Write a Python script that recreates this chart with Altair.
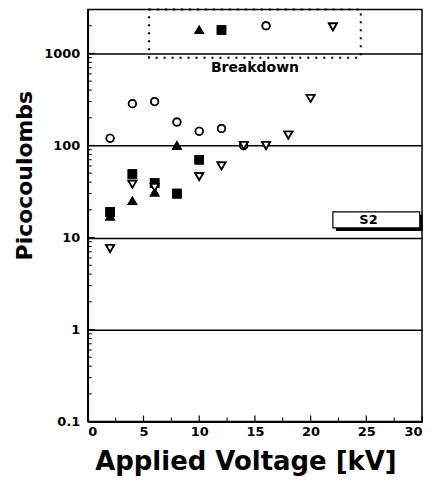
import altair as alt
import pandas as pd

# ---- data ----
circle_x = [2, 4, 6, 8, 10, 12, 14, 16]
circle_y = [120, 285, 300, 180, 143, 153, 100, 2000]
tri_x = [2, 4, 6, 8, 10]
tri_y = [17, 25, 31, 100, 1800]
sq_x = [2, 4, 6, 8, 10, 12]
sq_y = [19, 49, 39, 30, 70, 1800]
down_x = [2, 4, 6, 10, 12, 14, 16, 18, 20, 22]
down_y = [7.6, 38, 35, 46, 60, 100, 100, 130, 325, 1950]

series_names = ["circle", "triangle", "square", "down"]
series_shapes = ["circle", "triangle-up", "square", "triangle-down"]
series_fills = ["white", "black", "black", "white"]

x_ticks = [0, 5, 10, 15, 20, 25, 30]
x_minor = [2.5, 7.5, 12.5, 17.5, 22.5, 27.5]
y_ticks = [0.1, 1, 10, 100, 1000]
y_minor = [m * d for d in [0.1, 1, 10, 100] for m in range(2, 10)] + [2000, 3000]

breakdown_box = {"x0": 5.5, "x1": 24.5, "y0": 900, "y1": 3000}
breakdown_label = {"x": 15, "y": 700, "text": "Breakdown"}
s2_box = {"x0": 22, "x1": 29.8, "y0": 12.7, "y1": 19}
s2_label = {"x": 25.2, "y": 15.5, "text": "S2"}

rows = []
for name, xs_, ys_ in [("circle", circle_x, circle_y), ("triangle", tri_x, tri_y),
                       ("square", sq_x, sq_y), ("down", down_x, down_y)]:
    for a, b in zip(xs_, ys_):
        rows.append({"x": a, "y": b, "s": name})
df = pd.DataFrame(rows)

FONT = "DejaVu Sans"
W, H = 335, 413

xs = alt.Scale(domain=[0, 30], nice=False, zero=False)
ys = alt.Scale(type="log", domain=[0.1, 3000], nice=False)

xaxis = alt.Axis(
    values=x_ticks, title="Applied Voltage [kV]", ticks=False, grid=False,
    labelPadding=4, titleX=158, titleY=48, titleBaseline="alphabetic",
    titleFontSize=26, labelFontSize=13)
yaxis = alt.Axis(
    values=y_ticks, format=".1~f", title="Picocoulombs", ticks=False,
    grid=True, gridColor="black", gridWidth=1.6, gridOpacity=1,
    labelPadding=8, titleX=-63, titleY=166, titleAngle=-90,
    titleAlign="center", titleBaseline="middle",
    titleFontSize=22, labelFontSize=13)


def X(f):
    return alt.X(f, scale=xs, axis=xaxis)


def Y(f):
    return alt.Y(f, scale=ys, axis=yaxis)


points = alt.Chart(df).mark_point(filled=True, stroke="black", strokeWidth=1.7, opacity=1).encode(
    x=X("x:Q"),
    y=Y("y:Q"),
    shape=alt.Shape("s:N", scale=alt.Scale(domain=series_names, range=series_shapes), legend=None),
    fill=alt.Fill("s:N", scale=alt.Scale(domain=series_names, range=series_fills), legend=None),
    size=alt.Size("s:N", scale=alt.Scale(domain=series_names, range=[55, 65, 45, 65]), legend=None),
)

ymaj = alt.Chart(pd.DataFrame({"y": y_ticks})).mark_rule(color="black", strokeWidth=1.2).encode(
    y=Y("y:Q"), x=alt.value(0), x2=alt.value(7))
ymin = alt.Chart(pd.DataFrame({"y": y_minor})).mark_rule(color="black", strokeWidth=1).encode(
    y=Y("y:Q"), x=alt.value(0), x2=alt.value(4))
xmaj = alt.Chart(pd.DataFrame({"x": x_ticks})).mark_rule(color="black", strokeWidth=1.2).encode(
    x=X("x:Q"), y=alt.value(H), y2=alt.value(H - 6))
xmin = alt.Chart(pd.DataFrame({"x": x_minor})).mark_rule(color="black", strokeWidth=1).encode(
    x=X("x:Q"), y=alt.value(H), y2=alt.value(H - 4))

bd = alt.Chart(pd.DataFrame([breakdown_box])).mark_rect(
    fillOpacity=0, stroke="black", strokeWidth=2, strokeDash=[2, 6]).encode(
    x=X("x0:Q"), x2="x1:Q", y=Y("y0:Q"), y2="y1:Q")
bd_text = alt.Chart(pd.DataFrame([breakdown_label])).mark_text(
    font=FONT, fontWeight="bold", fontSize=14, color="black").encode(
    x=X("x:Q"), y=Y("y:Q"), text="text:N")

s2_shadow = alt.Chart(pd.DataFrame([s2_box])).mark_rect(
    color="black", xOffset=3, x2Offset=3, yOffset=3, y2Offset=3).encode(
    x=X("x0:Q"), x2="x1:Q", y=Y("y0:Q"), y2="y1:Q")
s2_rect = alt.Chart(pd.DataFrame([s2_box])).mark_rect(
    fill="white", stroke="black", strokeWidth=1.2).encode(
    x=X("x0:Q"), x2="x1:Q", y=Y("y0:Q"), y2="y1:Q")
s2_text = alt.Chart(pd.DataFrame([s2_label])).mark_text(
    font=FONT, fontWeight="bold", fontSize=13, color="black").encode(
    x=X("x:Q"), y=Y("y:Q"), text="text:N")

chart = alt.layer(
    points, ymaj, ymin, xmaj, xmin, bd, bd_text, s2_shadow, s2_rect, s2_text, points
).properties(
    width=W, height=H, padding={"left": 6, "top": 0, "right": 5, "bottom": 5}
).configure_view(
    stroke="black", strokeWidth=1.5
).configure_axis(
    labelFont=FONT, titleFont=FONT, labelFontWeight="bold", titleFontWeight="bold",
    labelColor="black", titleColor="black", domainColor="black", domainWidth=1.5
)

chart.save("out.html", embed_options={"renderer": "svg", "actions": False})
